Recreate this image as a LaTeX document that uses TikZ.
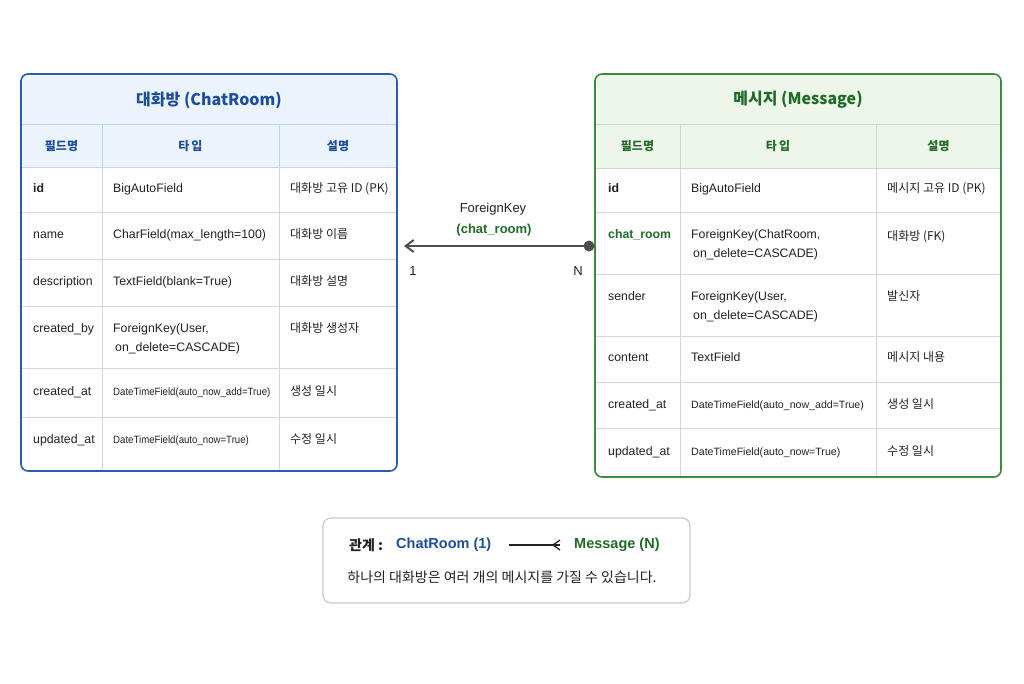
\documentclass[tikz,border=0pt]{standalone}
\usepackage{fontspec}
\setmainfont{Liberation Sans}
\newfontfamily\kr{Noto Sans CJK KR}
\usepackage{tikz}
\usepackage{graphicx}
\usepackage{xcolor}
\usetikzlibrary{positioning,arrows.meta}

\definecolor{roomborder}{HTML}{2A5DA8}
\definecolor{roomtitle}{HTML}{1D4E9B}
\definecolor{roomfill}{HTML}{EBF3FC}
\definecolor{roomline}{HTML}{BFD4EE}
\definecolor{msgborder}{HTML}{3A8B3E}
\definecolor{msgtitle}{HTML}{1F6B27}
\definecolor{msgfill}{HTML}{EEF6EC}
\definecolor{msgline}{HTML}{C6DEC3}
\definecolor{gridgray}{HTML}{D7D7D7}
\definecolor{inkdark}{HTML}{222222}
\definecolor{fkgray}{HTML}{4F4F4F}
\definecolor{boxgray}{HTML}{CACACA}

\begin{document}
\begin{tikzpicture}[x=1pt, y=-1pt,
    every node/.style={inner sep=0pt, text=inkdark},
    cell/.style={anchor=west, text height=9pt, text depth=3pt, font=\fontsize{12.3}{19}\selectfont},
    keycell/.style={cell, font=\bfseries\fontsize{12.3}{19}\selectfont},
    twoline/.style={anchor=west, align=left, font=\fontsize{12.3}{19}\selectfont},
    smallcell/.style={cell, font=\fontsize{10.6}{14}\selectfont},
    desc/.style={cell, font=\kr\fontsize{12}{19}\selectfont},
    title/.style={font=\kr\bfseries\fontsize{16}{20}\selectfont},
    head/.style={font=\kr\bfseries\fontsize{12}{14}\selectfont},
    tablegrid/.style={draw=gridgray, line width=0.8pt},
    fk/.style={draw=fkgray, line width=2pt, -{Straight Barb[length=8pt, width=12pt]}},
    crow/.style={draw=inkdark, line width=1.3pt}
]
    \fill[white] (0,0) rectangle (1024,683);
    \useasboundingbox (0,0) rectangle (1024,683);

    % ChatRoom table
    \begin{scope}
        \clip[rounded corners=7pt] (21,74) rectangle (397,471);
        \fill[roomfill] (21,74) rectangle (397,167);
    \end{scope}
    \draw[roomline, line width=0.8pt] (21,124) -- (397,124) (21,167) -- (397,167)
        (102,124) -- (102,167) (279,124) -- (279,167);
    \draw[tablegrid] (21,212) -- (397,212) (21,259) -- (397,259) (21,306) -- (397,306)
        (21,368) -- (397,368) (21,417) -- (397,417)
        (102,167) -- (102,471) (279,167) -- (279,471);
    \draw[roomborder, line width=1.6pt, rounded corners=7pt] (21,74) rectangle (397,471);

    \node[title, text=roomtitle] (room-title) at (209,100) {대화방 (ChatRoom)};
    \node[head, text=roomtitle] (room-h-field) at (61.5,146) {필드명};
    \node[head, text=roomtitle] (room-h-type) at (190.5,146) {타\,입};
    \node[head, text=roomtitle] (room-h-desc) at (338,146) {설명};

    \node[keycell] (room-id) at (33,189.5) {id};
    \node[cell] (room-id-type) at (113,189.5) {BigAutoField};
    \node[desc] (room-id-desc) at (290,189.5) {대화방 고유 ID (PK)};

    \node[cell] (room-name) at (33,235.5) {name};
    \node[cell] (room-name-type) at (113,235.5) {CharField(max\_length=100)};
    \node[desc] (room-name-desc) at (290,235.5) {대화방 이름};

    \node[cell] (room-descr) at (33,282.5) {description};
    \node[cell] (room-descr-type) at (113,282.5) {TextField(blank=True)};
    \node[desc] (room-descr-desc) at (290,282.5) {대화방 설명};

    \node[cell] (room-by) at (33,329) {created\_by};
    \node[twoline] (room-by-type) at (113,338.5) {ForeignKey(User,\\\hspace{2pt}on\_delete=CASCADE)};
    \node[desc] (room-by-desc) at (290,329) {대화방 생성자};

    \node[cell] (room-cat) at (33,392.5) {created\_at};
    \node[smallcell] (room-cat-type) at (113,392.5) {\scalebox{0.91}[1]{DateTimeField(auto\_now\_add=True)}};
    \node[desc] (room-cat-desc) at (290,392.5) {생성 일시};

    \node[cell] (room-uat) at (33,440) {updated\_at};
    \node[smallcell] (room-uat-type) at (113,440) {\scalebox{0.91}[1]{DateTimeField(auto\_now=True)}};
    \node[desc] (room-uat-desc) at (290,440) {수정 일시};

    % Message table
    \begin{scope}
        \clip[rounded corners=7pt] (595,74) rectangle (1001,477);
        \fill[msgfill] (595,74) rectangle (1001,168);
    \end{scope}
    \draw[msgline, line width=0.8pt] (595,124) -- (1001,124) (595,168) -- (1001,168)
        (680,124) -- (680,168) (876,124) -- (876,168);
    \draw[tablegrid] (595,212) -- (1001,212) (595,274) -- (1001,274) (595,336) -- (1001,336)
        (595,382) -- (1001,382) (595,428) -- (1001,428)
        (680,168) -- (680,477) (876,168) -- (876,477);
    \draw[msgborder, line width=1.6pt, rounded corners=7pt] (595,74) rectangle (1001,477);

    \node[title, text=msgtitle] (msg-title) at (798,100) {메시지 (Message)};
    \node[head, text=msgtitle] (msg-h-field) at (637.5,146) {필드명};
    \node[head, text=msgtitle] (msg-h-type) at (778,146) {타\,입};
    \node[head, text=msgtitle] (msg-h-desc) at (938.5,146) {설명};

    \node[keycell] (msg-id) at (608,189) {id};
    \node[cell] (msg-id-type) at (691,189) {BigAutoField};
    \node[desc] (msg-id-desc) at (887,189) {메시지 고유 ID (PK)};

    \node[keycell, text=msgtitle] (msg-room) at (608,235) {chat\_room};
    \node[twoline] (msg-room-type) at (691,244.5) {ForeignKey(ChatRoom,\\\hspace{2pt}on\_delete=CASCADE)};
    \node[desc] (msg-room-desc) at (887,237) {대화방 (FK)};

    \node[cell] (msg-sender) at (608,297) {sender};
    \node[twoline] (msg-sender-type) at (691,306.5) {ForeignKey(User,\\\hspace{2pt}on\_delete=CASCADE)};
    \node[desc] (msg-sender-desc) at (887,297) {발신자};

    \node[cell] (msg-content) at (608,358) {content};
    \node[cell] (msg-content-type) at (691,358) {TextField};
    \node[desc] (msg-content-desc) at (887,358) {메시지 내용};

    \node[cell] (msg-cat) at (608,405) {created\_at};
    \node[smallcell] (msg-cat-type) at (691,405) {DateTimeField(auto\_now\_add=True)};
    \node[desc] (msg-cat-desc) at (887,405) {생성 일시};

    \node[cell] (msg-uat) at (608,452) {updated\_at};
    \node[smallcell] (msg-uat-type) at (691,452) {DateTimeField(auto\_now=True)};
    \node[desc] (msg-uat-desc) at (887,452) {수정 일시};

    % ForeignKey link
    \coordinate (fk-dot) at (589,246);
    \coordinate (fk-tip) at (404,246);
    \draw[fk] (fk-dot) -- (fk-tip);
    \fill[fkgray] (fk-dot) circle (5.5);
    \node[font=\fontsize{13}{15}\selectfont] (fk-label) at (493,209) {ForeignKey};
    \node[font=\bfseries\fontsize{13}{15}\selectfont, text=msgtitle] (fk-field) at (494,230) {(chat\_room)};
    \node[font=\fontsize{13}{15}\selectfont] (fk-one) at (413,271) {1};
    \node[font=\fontsize{13}{15}\selectfont] (fk-many) at (578,271) {N};

    % Relation summary
    \node[draw=boxgray, line width=1.2pt, rounded corners=8pt, minimum width=367pt, minimum height=85pt] (legend) at (506.5,560.5) {};
    \node[anchor=west, font=\kr\bfseries\fontsize{14}{16}\selectfont] (rel-label) at (349,545) {관계 :};
    \node[anchor=west, font=\bfseries\fontsize{14.5}{17}\selectfont, text=roomtitle] (rel-room) at (396,545) {ChatRoom (1)};
    \node[anchor=west, font=\bfseries\fontsize{14.5}{17}\selectfont, text=msgtitle] (rel-msg) at (574,545) {Message (N)};
    \coordinate (crow-start) at (509,545);
    \coordinate (crow-end) at (560,545);
    \draw[crow] (crow-start) -- (crow-end);
    \draw[crow] (crow-end) ++(0,-5) -- ++(-7,5) -- ++(7,5);
    \node[font=\kr\fontsize{14}{16}\selectfont] (rel-text) at (502,577) {하나의 대화방은 여러 개의 메시지를 가질 수 있습니다.};
\end{tikzpicture}
\end{document}
